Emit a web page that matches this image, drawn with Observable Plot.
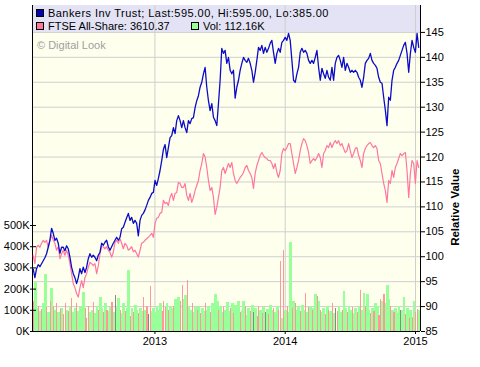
<!DOCTYPE html>
<html><head><meta charset="utf-8">
<script src="https://cdn.jsdelivr.net/npm/d3@7"></script>
<script src="https://cdn.jsdelivr.net/npm/@observablehq/plot@0.6"></script>
<style>
body{margin:0;background:#fff;font-family:"Liberation Sans",Arial,sans-serif;}
#wrap{position:relative;width:480px;height:367px;overflow:hidden;}
#wrap svg{position:absolute;left:0;top:0;}
.leg{position:absolute;font-size:11px;line-height:11px;color:#000;white-space:nowrap;}
.sq{position:absolute;width:6px;height:6px;border:1px solid #000;}
</style></head><body><div id="wrap"></div>
<script>
// sampling grid: evenly spaced observations between these dates
const firstDate = "2012-01-26", lastDate = "2015-01-10";
const axisStart = "2012-01-24", axisEnd = "2015-01-15";

const bankers = [
97.5,95.8,97.6,98.4,98.0,98.6,99.2,99.8,100.6,101.9,103.3,105.7,104.7,103.3,103.7,102.7,100.7,101.9,101.9,101.2,
102.2,101.6,99.9,97.9,96.6,95.8,94.6,95.8,97.6,96.6,97.9,96.8,97.9,99.6,100.6,99.9,100.3,99.9,99.2,100.3,
100.9,102.7,102.3,102.9,103.3,102.0,101.3,102.0,102.7,103.3,103.9,103.3,103.9,105.6,105.9,106.9,
107.8,108.7,107.3,107.9,106.7,107.3,106.7,104.2,107.3,108.3,108.7,109.4,110.3,111.3,111.9,112.7,112.9,115.3,114.3,115.7,
117.3,119.3,121.5,122.5,119.9,121.9,123.9,124.3,125.9,124.7,127.3,128.3,127.3,125.9,127.3,125.9,124.9,127.3,126.7,127.7,
127.9,129.9,131.3,132.3,134.0,135.0,136.7,138.0,134.0,131.3,129.3,130.7,128.0,127.3,126.3,130.7,135.4,
141.8,140.8,141.4,138.8,140.0,137.4,136.7,137.4,131.8,134.0,135.4,137.4,138.8,140.0,139.4,139.0,139.8,138.8,137.4,135.0,
137.0,139.4,142.0,141.4,142.4,140.8,142.0,141.0,141.8,142.8,143.4,141.0,138.8,140.8,141.8,141.0,143.0,143.4,144.0,143.4,
144.8,143.4,139.4,135.4,135.0,136.7,138.0,141.0,141.8,141.0,141.4,140.8,139.4,138.8,139.4,138.8,140.0,
141.4,138.0,135.4,137.8,136.7,135.8,137.4,136.0,135.4,138.0,135.4,138.8,140.0,140.4,139.4,138.0,140.0,137.4,138.8,138.0,
137.0,137.4,137.0,137.4,137.0,136.0,135.4,134.0,136.0,138.8,139.4,139.8,140.8,139.4,138.8,138.4,137.8,136.0,135.0,134.8,
132.0,129.4,126.3,132.0,131.4,135.4,137.4,138.0,138.8,139.4,140.4,141.4,142.4,143.0,140.8,137.0,140.8,143.4,142.0,141.0,
144.8,142.0
];
const ftse = [
100.2,98.6,101.9,102.3,101.9,102.7,103.3,102.9,103.3,101.9,103.3,104.3,103.3,102.7,101.3,102.0,99.6,100.6,101.3,100.3,
101.3,100.3,98.6,96.6,94.6,93.8,92.6,91.9,93.8,95.2,93.8,95.8,96.6,97.9,98.9,98.6,98.2,98.6,96.6,98.2,
100.6,102.0,102.0,101.6,102.0,101.3,100.9,99.9,100.9,102.9,103.3,102.7,103.6,102.7,101.6,102.7,
102.3,101.3,101.6,102.0,101.0,101.3,100.6,99.9,101.3,102.7,102.9,103.3,103.6,103.9,104.3,104.7,103.9,106.7,107.7,107.9,
108.7,108.9,111.3,110.7,110.9,110.3,111.9,112.7,111.3,112.7,112.9,114.9,114.7,113.9,113.9,114.7,112.3,111.3,112.7,110.9,
111.9,113.3,114.3,115.3,117.3,118.7,120.7,120.0,117.9,115.3,113.3,113.9,111.9,108.5,109.9,111.9,113.9,
117.3,117.9,116.7,117.7,118.7,117.9,118.9,116.7,115.3,114.7,115.3,115.9,116.3,116.9,117.9,118.3,117.3,116.7,115.9,113.7,
116.7,118.3,119.3,120.3,120.9,120.3,119.9,119.7,119.3,119.3,118.7,117.7,118.7,116.9,115.9,117.3,120.7,121.7,121.3,121.9,
122.7,122.7,120.7,118.7,116.7,117.9,119.3,121.3,122.7,123.7,123.3,122.3,120.9,118.7,119.3,119.7,119.3,
119.9,120.7,119.9,117.9,120.7,121.3,122.3,121.9,122.9,121.9,122.7,123.3,122.7,123.3,122.3,122.7,121.7,120.9,121.3,122.7,
121.3,119.9,120.7,121.7,121.9,120.3,119.3,117.9,120.7,121.7,122.3,122.7,122.9,122.3,121.9,122.3,121.7,119.3,118.7,116.7,
114.7,113.3,110.9,115.3,114.7,117.3,115.9,117.9,118.7,119.7,120.7,120.3,120.7,120.9,117.3,111.9,116.7,119.3,118.7,114.7,
119.3,117.9
];
// volume in thousands
const volume = [
140,230,110,120,95,105,130,270,115,90,
140,205,120,100,130,90,105,110,80,130,
100,95,120,155,90,110,130,95,115,120,
184,110,60,120,90,100,135,85,120,100,
160,110,90,130,100,95,115,135,90,168,
120,154,100,85,130,95,110,290,70,110,
90,125,100,85,110,95,160,100,120,80,
210,95,110,90,120,100,130,95,140,115,
130,100,120,110,120,150,125,160,140,215,
150,170,240,120,100,130,90,115,100,120,
85,110,95,130,100,120,90,130,110,175,
140,100,120,90,115,100,135,95,110,130,
85,125,105,140,90,100,140,120,75,110,
95,125,90,110,70,120,100,85,115,90,
105,80,125,100,110,90,120,100,330,60,
380,100,120,90,420,110,140,130,100,120,
95,125,100,180,90,115,120,100,110,175,
165,140,100,90,110,80,120,100,95,130,
85,110,95,120,90,100,190,110,90,120,
100,115,85,110,90,120,195,100,180,120,
175,100,85,110,95,130,120,75,150,140,
175,130,215,150,120,100,90,110,85,120,
98,100,160,80,110,60,100,65,140,90,
105,100
];
// g = up day, p = down day, n = unchanged
const volumeDirection = (
"pggpgpggpg"+"pgpgpgpgpp"+"gpgpggpggg"+"gpppggpggp"+"ggpgpggpgn"+
"ggpggpggpg"+"pggpggpgpn"+"pggggggppp"+"gpggpgggpp"+"ggpggpggpg"+
"pggpggpggg"+"gpggpgggpg"+"pgggpggpgg"+"pgngppgpgn"+"gpggpggppg"+
"pgpggpgpgg"+"pggpgpgpgg"+"pgpggpgpgp"+"gnpggpggpg"+"gpggpgpggp"+
"ggpgpggppg"+"pgggpgpggg"+"nggpgpgpgp"+"pg").split("");

const relTicks = [85,90,95,100,105,110,115,120,125,130,135,140,145];
const gridValues = [90,95,100,105,110,115,120,125,130,135,140,145];
const volTicks = [0,100,200,300,400,500];
const volLabels = ["0K","100K","200K","300K","400K","500K"];
const yearDates = ["2013-01-01","2014-01-01","2015-01-01"];
const yearLabels = ["2013","2014","2015"];
const legendItems = [
  {label:"Bankers Inv Trust; Last:595.00, Hi:595.00, Lo:385.00", color:"#0000b4"},
  {label:"FTSE All-Share: 3610.37", color:"#ff7799"},
  {label:"Vol: 112.16K", color:"#99ff99"}
];

const dirColor = {g:"#99ff99", p:"#ff9999", n:"#888888"};
const t0 = new Date(firstDate), t1 = new Date(lastDate);
const n = bankers.length;
const step = (t1 - t0) / (n - 1);
const rows = bankers.map((b, i) => {
  const date = new Date(+t0 + i * step);
  return {date, next: new Date(+date + step), bankers: b, ftse: ftse[i], vol: volume[i], dir: volumeDirection[i], color: dirColor[volumeDirection[i]]};
});
const upRows = rows.filter(r => r.dir === "g");
const otherRows = rows.filter(r => r.dir !== "g");
const xDomain = [new Date(axisStart), new Date(axisEnd)];
const yearD = yearDates.map(d => new Date(d));

const W = 480, H = 367;
const base = {width: W, height: H, marginLeft: 32, marginRight: 60, marginTop: 5, marginBottom: 36,
  x: {type: "utc", domain: xDomain, axis: null}};
const font = {fontFamily: "'Liberation Sans', Arial, sans-serif", fontSize: "11px"};
const relY = {domain: [85, 150.4], axis: null};

const layerA = Plot.plot({...base, y: relY,
  style: {...font, background: "#ffffff"},
  marks: [
    Plot.frame({fill: "#ffffee", stroke: null}),
    Plot.rect([{a: 145, b: 150.4}], {x1: () => xDomain[0], x2: () => xDomain[1], y1: "a", y2: "b", fill: "#e3e3f5"}),
    Plot.ruleY(gridValues, {stroke: "#cfcfcf"}),
    Plot.ruleX(yearD, {stroke: "#cfcfcf"})
  ]});

const layerB = Plot.plot({...base, y: {domain: [0, 1538], axis: null}, color: {type: "identity"},
  style: {...font, background: "transparent"},
  marks: [
    Plot.rectY(upRows, {x1: "date", x2: "next", y: "vol", fill: "color", insetLeft: -0.6, insetRight: -0.6, shapeRendering: "crispEdges"}),
    Plot.rectY(otherRows, {x1: "date", x2: "next", y: "vol", fill: "color", insetLeft: 0.3, insetRight: 0.3, shapeRendering: "crispEdges"}),
    Plot.ruleX([xDomain[0]], {stroke: "#000"}),
    Plot.ruleY([0], {stroke: "#000"}),
    Plot.axisY(volTicks, {anchor: "left", tickSize: 6, dx: 4, tickPadding: 1, tickFormat: (d, i) => volLabels[i], label: null, fontSize: 11})
  ]});

const layerC = Plot.plot({...base, y: relY,
  style: {...font, background: "transparent"},
  marks: [
    Plot.lineY(rows, {x: "date", y: "ftse", stroke: "#ff77a0", strokeWidth: 1.2}),
    Plot.lineY(rows, {x: "date", y: "bankers", stroke: "#0c0cc8", strokeWidth: 1.3}),
    Plot.ruleX([xDomain[1]], {stroke: "#000"}),
    Plot.axisY(relTicks, {anchor: "right", tickSize: 4, tickPadding: 1, label: null, fontSize: 11}),
    Plot.axisX(yearD, {anchor: "bottom", tickSize: 3, tickPadding: 3, tickFormat: (d, i) => yearLabels[i], label: null, fontSize: 11}),
    Plot.text(["Relative Value"], {frameAnchor: "right", dx: 35, rotate: -90, text: d => d, fontWeight: "bold", fontSize: 11.5})
  ]});

const wrap = document.getElementById("wrap");
wrap.append(layerA, layerB, layerC);

function addText(txt, left, top, color, spacing) {
  const d = document.createElement("div");
  d.className = "leg"; d.textContent = txt;
  d.style.left = left + "px"; d.style.top = top + "px";
  if (color) d.style.color = color;
  if (spacing) d.style.letterSpacing = spacing + "px";
  wrap.append(d);
}
function addSq(color, left, top) {
  const s = document.createElement("div");
  s.className = "sq"; s.style.background = color;
  s.style.left = left + "px"; s.style.top = top + "px";
  wrap.append(s);
}
addSq(legendItems[0].color, 36, 9); addText(legendItems[0].label, 48, 8, null, 0.45);
addSq(legendItems[1].color, 36, 22); addText(legendItems[1].label, 48, 21);
addSq(legendItems[2].color, 191, 22); addText(legendItems[2].label, 203, 21);
addText("\u00a9 Digital Look", 37, 40, "#a0a0a0");
</script></body></html>
